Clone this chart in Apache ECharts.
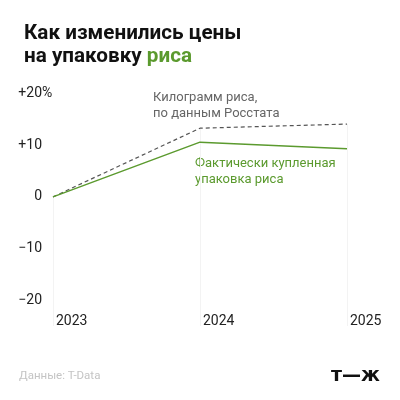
<!DOCTYPE html>
<html>
<head>
    <meta charset="utf-8">
    <title>Цены на рис</title>
    <script src="https://cdn.jsdelivr.net/npm/echarts@6/dist/echarts.min.js"></script>
    <style>
        html, body { margin: 0; padding: 0; background: #fff; }
    </style>
</head>
<body>
<div id="main" style="width: 400px;height:400px;"></div>

<script type="text/javascript">
    // данные с картинки
    var years = ['2023', '2024', '2025'];
    var rosstat = [0, 13.3, 14.1];      // килограмм риса, Росстат
    var fakt = [0, 10.6, 9.3];          // фактически купленная упаковка
    var yTicks = { '20': '+20', '10': '+10', '0': '0', '-10': '\u221210', '-20': '\u221220' };

    var zelenyi = '#5b9a2e';
    var shrift = 'Roboto, "Noto Sans", sans-serif';

    var myChart = echarts.init(document.getElementById('main'));

    // вертикальные линии сетки: от верхней линии вниз до низа
    var setka = [];
    for (var i = 0; i < years.length; i++) {
        setka.push([{ coord: [i, rosstat[i]] }, { coord: [i, -25] }]);
    }

    myChart.setOption({
        backgroundColor: '#fff',
        animation: false,
        title: {
            left: 19,
            top: 17,
            text: 'Как изменились цены\nна упаковку {g|риса}',
            textStyle: {
                fontFamily: shrift,
                fontSize: 20.7,
                fontWeight: 'bold',
                color: '#111',
                lineHeight: 23,
                rich: {
                    g: { fontFamily: shrift, fontSize: 20.7, fontWeight: 'bold', color: zelenyi, lineHeight: 23 }
                }
            }
        },
        grid: {
            left: 53,
            right: 53,
            top: 93.6,
            bottom: 74
        },
        xAxis: {
            type: 'category',
            data: years,
            boundaryGap: false,
            axisLine: { show: false },
            axisTick: { show: false },
            splitLine: { show: false },
            axisLabel: {
                inside: true,
                interval: 0,
                margin: 5,
                align: 'left',
                verticalAlign: 'middle',
                padding: [0, 0, 0, 3],
                color: '#222',
                fontFamily: shrift,
                fontSize: 14
            }
        },
        yAxis: [
            {
                type: 'value',
                min: -25,
                max: 20,
                interval: 5,
                axisLine: { show: false },
                axisTick: { show: false },
                splitLine: { show: false },
                axisLabel: {
                    margin: 11,
                    align: 'right',
                    verticalAlign: 'middle',
                    padding: [0, 0, 8, 0],
                    color: '#222',
                    fontFamily: shrift,
                    fontSize: 14,
                    formatter: function (v) {
                        return yTicks[String(v)] || '';
                    }
                }
            },
            {
                type: 'value',
                position: 'left',
                min: -25,
                max: 20,
                interval: 5,
                axisLine: { show: false },
                axisTick: { show: false },
                splitLine: { show: false },
                axisLabel: {
                    margin: 11,
                    align: 'left',
                    verticalAlign: 'middle',
                    padding: [0, 0, 8, 0],
                    color: '#222',
                    fontFamily: shrift,
                    fontSize: 14,
                    formatter: function (v) {
                        return v === 20 ? '%' : '';
                    }
                }
            }
        ],
        graphic: [
            {
                type: 'text',
                left: 153,
                top: 89,
                style: {
                    text: 'Килограмм риса,\nпо данным Росстата',
                    fill: '#666',
                    font: '13px ' + shrift,
                    lineHeight: 16.5
                }
            },
            {
                type: 'text',
                left: 195,
                top: 155,
                style: {
                    text: 'Фактически купленная\nупаковка риса',
                    fill: zelenyi,
                    font: '13px ' + shrift,
                    lineHeight: 16.5
                }
            },
            {
                type: 'text',
                left: 19,
                top: 370,
                style: {
                    text: 'Данные: T-Data',
                    fill: '#c4c4c4',
                    font: '11.5px ' + shrift
                }
            },
            {
                type: 'text',
                right: 20,
                top: 367,
                style: {
                    text: 'т—ж',
                    fill: '#111',
                    font: '900 19px "DejaVu Sans", sans-serif'
                }
            }
        ],
        series: [
            {
                name: 'Росстат',
                type: 'line',
                data: rosstat,
                showSymbol: false,
                lineStyle: { color: '#555', width: 1.2, type: [4, 3] },
                itemStyle: { color: '#555' },
                z: 3,
                markLine: {
                    silent: true,
                    symbol: 'none',
                    label: { show: false },
                    lineStyle: { color: '#f3f3f3', width: 1, type: 'solid', opacity: 1 },
                    emphasis: { disabled: true },
                    data: setka,
                    z: 1
                }
            },
            {
                name: 'Факт',
                type: 'line',
                data: fakt,
                showSymbol: false,
                lineStyle: { color: zelenyi, width: 1.5 },
                itemStyle: { color: zelenyi },
                z: 4
            }
        ]
    });
</script>
</body>
</html>
